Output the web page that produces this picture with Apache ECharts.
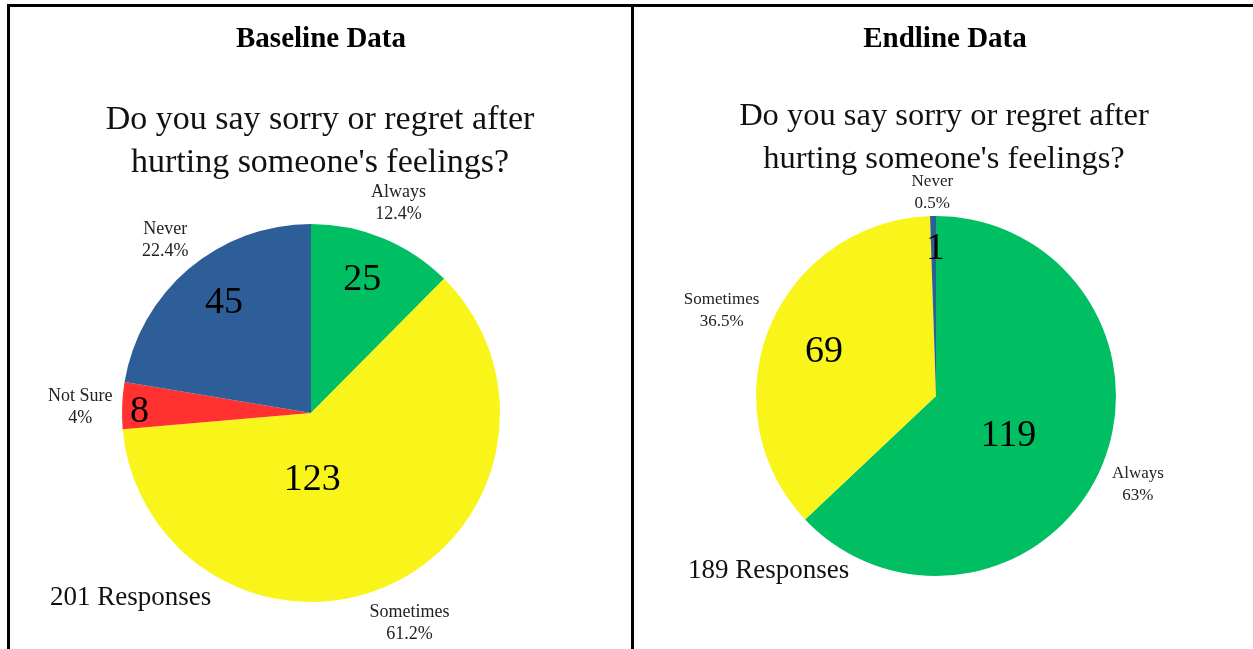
<!DOCTYPE html>
<html>
<head>
<meta charset="utf-8">
<script src="https://cdn.jsdelivr.net/npm/echarts@6/dist/echarts.min.js"></script>
<style>
  html, body { margin: 0; padding: 0; background: #fff; }
  #main { width: 1253px; height: 649px; }
</style>
</head>
<body>
<div id="main"></div>
<script>
// data
const categoriesBase = ['Always', 'Sometimes', 'Not Sure', 'Never'];
const valuesBase = [25, 123, 8, 45];
const categoriesEnd = ['Always', 'Sometimes', 'Never'];
const valuesEnd = [119, 69, 1];
const question = "Do you say sorry or regret after\nhurting someone's feelings?";

const colorMap = {
    'Always': '#00BF63',
    'Sometimes': '#F9F51B',
    'Not Sure': '#FF3131',
    'Never': '#2E5E97'
};

// small nudges for labels (Excel placed some of them by hand)
const nudgeBase = [[14, -43], [-40, -21], [-74, 3], [-24, -36]];
const nudgeEnd = [[-13, 3], [-26, -9], [1, -54]];
const ringNudgeBase = [[0, 3], [1, 2], [-1, 3], [3, 3]];
const ringNudgeEnd = [[-1, 1], [-10, -1], [0, 18]];

const serif = '"Liberation Serif", "Times New Roman", serif';

function toData(names, vals) {
    return names.map((n, i) => ({ name: n, value: vals[i], itemStyle: { color: colorMap[n] } }));
}

function piePair(names, vals, center, r, ringGap, nudge, ringNudge, outerSize) {
    return [
        {
            type: 'pie',
            center: center,
            radius: [0, r],
            startAngle: 90,
            clockwise: true,
            silent: true,
            animation: false,
            itemStyle: { borderWidth: 0 },
            label: {
                position: 'inside',
                formatter: '{c}',
                fontFamily: serif,
                fontSize: 38,
                color: '#000'
            },
            labelLine: { show: false },
            labelLayout: function (p) {
                const n = nudge[p.dataIndex];
                return { dx: n[0], dy: n[1] };
            },
            data: toData(names, vals)
        },
        {
            // transparent ring just to carry the outer name / percent labels
            type: 'pie',
            center: center,
            radius: [r, r + ringGap * 2],
            startAngle: 90,
            clockwise: true,
            silent: true,
            animation: false,
            percentPrecision: 1,
            avoidLabelOverlap: false,
            itemStyle: { color: 'rgba(0,0,0,0)', borderWidth: 0 },
            label: {
                position: 'inside',
                formatter: '{b}\n{d}%',
                fontFamily: serif,
                fontSize: outerSize,
                lineHeight: 22,
                color: '#222'
            },
            labelLine: { show: false },
            labelLayout: function (p) {
                const n = ringNudge[p.dataIndex];
                return { dx: n[0], dy: n[1] };
            },
            data: toData(names, vals).map(d => Object.assign(d, { itemStyle: { color: 'rgba(0,0,0,0)' } }))
        }
    ];
}

const chart = echarts.init(document.getElementById('main'), null, { renderer: 'canvas' });

const border = { stroke: '#000', lineWidth: 3 };

chart.setOption({
    backgroundColor: '#fff',
    animation: false,
    series: [].concat(
        piePair(categoriesBase, valuesBase, [311, 413], 189, 38, nudgeBase, ringNudgeBase, 18),
        piePair(categoriesEnd, valuesEnd, [936, 396], 180, 38, nudgeEnd, ringNudgeEnd, 17)
    ),
    graphic: [
        { type: 'line', shape: { x1: 7, y1: 5.5, x2: 1253, y2: 5.5 }, style: border },
        { type: 'line', shape: { x1: 8.5, y1: 4, x2: 8.5, y2: 649 }, style: border },
        { type: 'line', shape: { x1: 632.5, y1: 4, x2: 632.5, y2: 649 }, style: border },
        {
            type: 'text', x: 321, y: 40,
            style: { text: 'Baseline Data', font: 'bold 29px ' + serif, fill: '#000', align: 'center', verticalAlign: 'middle' }
        },
        {
            type: 'text', x: 945, y: 40,
            style: { text: 'Endline Data', font: 'bold 29px ' + serif, fill: '#000', align: 'center', verticalAlign: 'middle' }
        },
        {
            type: 'text', x: 320, y: 142,
            style: { text: question, font: '34px ' + serif, lineHeight: 43, fill: '#111', align: 'center', verticalAlign: 'middle' }
        },
        {
            type: 'text', x: 944, y: 138,
            style: { text: question, font: '32.5px ' + serif, lineHeight: 43, fill: '#111', align: 'center', verticalAlign: 'middle' }
        },
        {
            type: 'text', x: 50, y: 598,
            style: { text: '201 Responses', font: '27px ' + serif, fill: '#111', align: 'left', verticalAlign: 'middle' }
        },
        {
            type: 'text', x: 688, y: 571,
            style: { text: '189 Responses', font: '27px ' + serif, fill: '#111', align: 'left', verticalAlign: 'middle' }
        }
    ]
});
</script>
</body>
</html>
